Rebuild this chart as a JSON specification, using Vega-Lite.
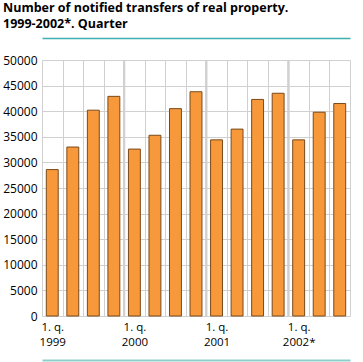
{
  "$schema": "https://vega.github.io/schema/vega-lite/v6.json",
  "width": 308,
  "height": 256,
  "autosize": {"type": "none"},
  "padding": {"left": 42, "top": 60, "right": 13, "bottom": 46},
  "background": "#ffffff",
  "config": {"view": {"stroke": null}},
  "title": {
    "text": ["Number of notified transfers of real property.", "1999-2002*. Quarter"],
    "anchor": "start",
    "frame": "group",
    "dx": -39,
    "font": "Open Sans",
    "fontSize": 12.5,
    "fontWeight": "bold",
    "color": "#000000",
    "lineHeight": 16,
    "offset": 8
  },
  "data": {
    "values": [
      {"period": "1999-1", "year": "1999", "quarter": 1, "value": 28600},
      {"period": "1999-2", "year": "1999", "quarter": 2, "value": 33000},
      {"period": "1999-3", "year": "1999", "quarter": 3, "value": 40200},
      {"period": "1999-4", "year": "1999", "quarter": 4, "value": 42900},
      {"period": "2000-1", "year": "2000", "quarter": 1, "value": 32600},
      {"period": "2000-2", "year": "2000", "quarter": 2, "value": 35300},
      {"period": "2000-3", "year": "2000", "quarter": 3, "value": 40500},
      {"period": "2000-4", "year": "2000", "quarter": 4, "value": 43800},
      {"period": "2001-1", "year": "2001", "quarter": 1, "value": 34400},
      {"period": "2001-2", "year": "2001", "quarter": 2, "value": 36500},
      {"period": "2001-3", "year": "2001", "quarter": 3, "value": 42300},
      {"period": "2001-4", "year": "2001", "quarter": 4, "value": 43500},
      {"period": "2002*-1", "year": "2002*", "quarter": 1, "value": 34400},
      {"period": "2002*-2", "year": "2002*", "quarter": 2, "value": 39800},
      {"period": "2002*-3", "year": "2002*", "quarter": 3, "value": 41500}
    ]
  },
  "resolve": {"axis": {"x": "independent"}},
  "layer": [
    {
      "mark": {"type": "bar", "width": {"band": 0.58}, "fill": "#f7993a", "stroke": "#7a4a1a", "strokeWidth": 1},
      "encoding": {
        "x": {
          "field": "period",
          "type": "ordinal",
          "sort": null,
          "scale": {"paddingInner": 0, "paddingOuter": 0},
          "axis": {
            "title": null,
            "tickBand": "extent",
            "grid": true,
            "gridColor": "#d0d0d0",
            "gridWidth": 1,
            "ticks": false,
            "domain": false,
            "labelAngle": 0,
            "labelFont": "Open Sans",
            "labelFontSize": 11.5,
            "labelColor": "#000000",
            "labelPadding": 5,
            "labelLineHeight": 15,
            "labelBaseline": "top",
            "labelExpr": "split(datum.value, '-')[1] == '1' ? ['1. q.', split(datum.value, '-')[0]] : ''"
          }
        },
        "y": {
          "field": "value",
          "type": "quantitative",
          "scale": {"domain": [0, 50000], "nice": false},
          "axis": {
            "title": null,
            "values": [0, 5000, 10000, 15000, 20000, 25000, 30000, 35000, 40000, 45000, 50000],
            "format": "d",
            "grid": true,
            "gridColor": "#d0d0d0",
            "ticks": false,
            "domain": false,
            "labelFont": "Open Sans",
            "labelFontSize": 12,
            "labelColor": "#000000",
            "labelPadding": 5
          }
        }
      }
    },
    {
      "transform": [{"filter": "datum.quarter == 1 && datum.year != '1999'"}],
      "mark": {"type": "rule", "color": "#d0d0d0", "strokeWidth": 2},
      "encoding": {
        "x": {
          "field": "period",
          "type": "ordinal",
          "bandPosition": 0,
          "axis": {
            "orient": "top",
            "title": null,
            "offset": 22,
            "labels": false,
            "ticks": false,
            "grid": false,
            "domain": true,
            "domainColor": "#3fb0b0",
            "domainWidth": 1.5
          }
        }
      }
    },
    {
      "transform": [{"filter": "datum.quarter == 1 && datum.year != '1999'"}],
      "mark": {"type": "rule", "color": "#d0d0d0", "strokeWidth": 2},
      "encoding": {
        "x": {
          "field": "period",
          "type": "ordinal",
          "bandPosition": 0,
          "axis": {
            "orient": "bottom",
            "title": null,
            "offset": 44,
            "labels": false,
            "ticks": false,
            "grid": false,
            "domain": true,
            "domainColor": "#8ecfcc",
            "domainWidth": 2
          }
        }
      }
    }
  ]
}
